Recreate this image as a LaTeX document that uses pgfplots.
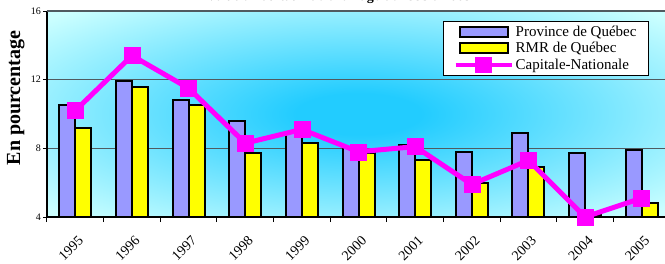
\documentclass[border=0pt]{standalone}
\usepackage{fontspec}
\setmainfont{Liberation Serif}
\usepackage{pgfplots}
\pgfplotsset{compat=1.18}
\definecolor{prov}{HTML}{9999FF}
\definecolor{rmr}{HTML}{FFFF00}
\definecolor{capcol}{HTML}{FF00FF}
\definecolor{bgc}{HTML}{22CCFF}
\definecolor{bgl}{HTML}{CCFFFF}
\definecolor{gridc}{HTML}{505A60}
\pgfdeclareradialshading{bgshade}{\pgfpoint{0bp}{0bp}}{color(0bp)=(bgc); color(5bp)=(bgc); color(34bp)=(bgl); color(50bp)=(bgl)}
\begin{document}
\begin{tikzpicture}
\node[font=\bfseries\fontsize{14}{16}\selectfont, anchor=base] at (335pt,262pt) {Évolution du taux de chômage de 1995 à 2005};
\begin{axis}[
  at={(47pt,46pt)}, anchor=south west,
  scale only axis, width=623pt, height=206pt,
  xmin=-0.5, xmax=10.5, ymin=4, ymax=16,
  clip=false,
  axis background/.style={shading=bgshade},
  ytick={4,8,12,16},
  xtick={0,...,10},
  xticklabels={1995,1996,1997,1998,1999,2000,2001,2002,2003,2004,2005},
  minor xtick={-0.5,0.5,...,10.5},
  major x tick style={draw=none},
  minor x tick style={black, line width=1pt},
  minor tick length=5pt,
  major tick length=4pt,
  ytick style={black, line width=1pt},
  tick align=outside,
  ymajorgrids=true,
  grid style={gridc, line width=1.2pt},
  axis x line*=bottom, axis y line*=left,
  axis line style={black, line width=1.6pt},
  /pgf/number format/assume math mode=true,
  yticklabel style={font=\fontsize{10}{12}\selectfont, inner sep=2pt},
  xticklabel style={rotate=45, anchor=north east, font=\fontsize{14}{16}\selectfont, inner sep=1pt, yshift=-10pt, xshift=-7pt},
  ylabel={En pourcentage},
  ylabel style={font=\bfseries\fontsize{20}{22}\selectfont, at={(axis description cs:-0.05,0.578)}, anchor=center, rotate=0},
  legend style={at={(0.636,0.951)}, anchor=north west, draw=black, line width=1pt, fill=white,
    font=\fontsize{15}{17}\selectfont, inner xsep=10pt, inner ysep=2pt, row sep=1pt,
    nodes={inner sep=2pt}},
  legend cell align=left,
]
\draw[gridc, line width=2pt] (axis cs:-0.5,16) -- (axis cs:10.5,16);
\addplot[ybar, bar width=16pt, bar shift=-8pt, fill=prov, draw=black, line width=2pt,
  legend image code/.code={\draw[fill=prov, draw=black, line width=2pt] (0pt,-5pt) rectangle (48pt,5pt);}]
  coordinates {(0,10.5) (1,11.9) (2,10.8) (3,9.6) (4,8.9) (5,8.1) (6,8.2) (7,7.8) (8,8.9) (9,7.7) (10,7.9)};
\addlegendentry{Province de Québec}
\addplot[ybar, bar width=16pt, bar shift=8pt, fill=rmr, draw=black, line width=2pt,
  legend image code/.code={\draw[fill=rmr, draw=black, line width=2pt] (0pt,-5pt) rectangle (48pt,5pt);}]
  coordinates {(0,9.2) (1,11.6) (2,10.5) (3,7.7) (4,8.3) (5,7.7) (6,7.3) (7,6.0) (8,6.9) (9,4.1) (10,4.8)};
\addlegendentry{RMR de Québec}
\addplot[capcol, line width=5pt, mark=square*, mark size=8pt, mark options={draw=capcol, fill=capcol, line width=0.5pt},
  legend image code/.code={\draw[capcol, line width=4pt] (-4pt,0pt) -- (52pt,0pt); \fill[capcol] (18pt,-5.5pt) rectangle (30pt,5.5pt);}]
  coordinates {(0,10.2) (1,13.4) (2,11.5) (3,8.3) (4,9.1) (5,7.8) (6,8.1) (7,5.9) (8,7.3) (9,4.0) (10,5.1)};
\addlegendentry{Capitale-Nationale}
\end{axis}
\pgfresetboundingbox
\path[use as bounding box] (0,0) rectangle (665pt,263pt);
\end{tikzpicture}
\end{document}
